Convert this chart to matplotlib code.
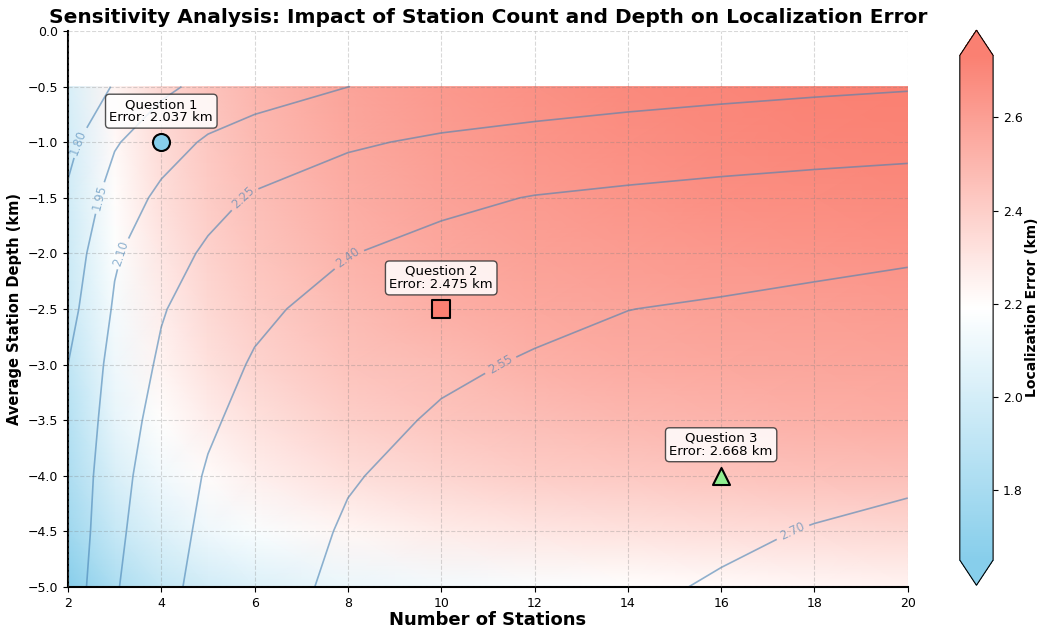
import numpy as np
import matplotlib
matplotlib.use("Agg")
import matplotlib.pyplot as plt
from matplotlib.colors import LinearSegmentedColormap

stations = [2, 3, 4, 5, 6, 8, 10, 12, 14, 16, 18, 20]
depths = [-0.5, -1.0, -1.5, -2.0, -2.5, -3.0, -3.5, -4.0, -4.5, -5.0]
error = [
    [1.650, 1.814, 1.921, 1.988, 2.034, 2.099, 2.140, 2.169, 2.193, 2.211, 2.227, 2.240],
    [1.760, 1.937, 2.037, 2.119, 2.166, 2.232, 2.272, 2.298, 2.318, 2.335, 2.348, 2.360],
    [1.820, 2.015, 2.132, 2.209, 2.263, 2.328, 2.373, 2.405, 2.424, 2.440, 2.454, 2.465],
    [1.860, 2.084, 2.196, 2.269, 2.322, 2.396, 2.438, 2.468, 2.492, 2.511, 2.527, 2.540],
    [1.900, 2.116, 2.240, 2.319, 2.376, 2.446, 2.475, 2.523, 2.549, 2.561, 2.572, 2.580],
    [1.950, 2.147, 2.271, 2.353, 2.411, 2.482, 2.531, 2.561, 2.579, 2.594, 2.605, 2.615],
    [1.960, 2.176, 2.301, 2.383, 2.439, 2.515, 2.562, 2.590, 2.611, 2.628, 2.642, 2.655],
    [1.980, 2.200, 2.327, 2.411, 2.466, 2.542, 2.586, 2.617, 2.641, 2.668, 2.676, 2.690],
    [1.990, 2.218, 2.345, 2.428, 2.485, 2.562, 2.607, 2.640, 2.666, 2.687, 2.704, 2.715],
    [2.010, 2.237, 2.362, 2.444, 2.501, 2.577, 2.625, 2.660, 2.687, 2.707, 2.721, 2.733],
]
levels = [1.80, 1.95, 2.10, 2.25, 2.40, 2.55, 2.70]

q_names = ["Question 1", "Question 2", "Question 3"]
q_stations = [4, 10, 16]
q_depths = [-1.0, -2.5, -4.0]
q_errors = [2.037, 2.475, 2.668]
q_markers = ["o", "s", "^"]
q_colors = ["skyblue", "salmon", "lightgreen"]

Z = np.array(error)
cmap = LinearSegmentedColormap.from_list("err", ["skyblue", "white", "salmon"])

fig = plt.figure(figsize=(10.41, 6.28), dpi=100)
ax = fig.add_axes([0.0653, 0.0653, 0.8067, 0.8853])

# heat map (drawn upside down like the original)
mesh = ax.pcolormesh(stations, depths[::-1], Z, cmap=cmap, shading="gouraud",
                     vmin=Z.min(), vmax=Z.max())

cs = ax.contour(stations, depths, Z, levels=levels, colors="steelblue",
                alpha=0.6, linewidths=1.2)
ax.clabel(cs, inline=True, fontsize=8.5, fmt="%.2f")

for name, s, d, e, m, c in zip(q_names, q_stations, q_depths, q_errors, q_markers, q_colors):
    ax.scatter(s, d, marker=m, s=150, color=c, edgecolor="black", linewidth=1.5, zorder=5)
    ax.annotate(f"{name}\nError: {e:.3f} km", (s, d), xytext=(0, 13),
                textcoords="offset points", ha="center", va="bottom", fontsize=9.5,
                linespacing=1.0,
                bbox=dict(boxstyle="round,pad=0.3", fc="white", ec="#333333", alpha=0.85),
                zorder=6)

ax.set_xlim(2, 20)
ax.set_ylim(-5, 0)
ax.set_xticks(range(2, 21, 2))
ax.set_yticks(np.arange(-5, 0.01, 0.5))
ax.grid(True, linestyle="--", color="gray", alpha=0.3, linewidth=0.8)
ax.set_axisbelow(False)
ax.spines["top"].set_visible(False)
ax.spines["right"].set_visible(False)
ax.spines["left"].set_linewidth(1.5)
ax.spines["bottom"].set_linewidth(1.5)
ax.tick_params(labelsize=9)

ax.set_title("Sensitivity Analysis: Impact of Station Count and Depth on Localization Error",
             fontsize=14.5, fontweight="bold", pad=6)
ax.set_xlabel("Number of Stations", fontsize=13, fontweight="bold", labelpad=1)
ax.set_ylabel("Average Station Depth (km)", fontsize=10.5, fontweight="bold", labelpad=4)

cax = fig.add_axes([0.922, 0.068, 0.032, 0.884])
cb = fig.colorbar(mesh, cax=cax, extend="both")
cb.set_label("Localization Error (km)", fontsize=10, fontweight="bold", labelpad=2)
cb.ax.tick_params(labelsize=9)

fig.savefig("out.png", dpi=100)
